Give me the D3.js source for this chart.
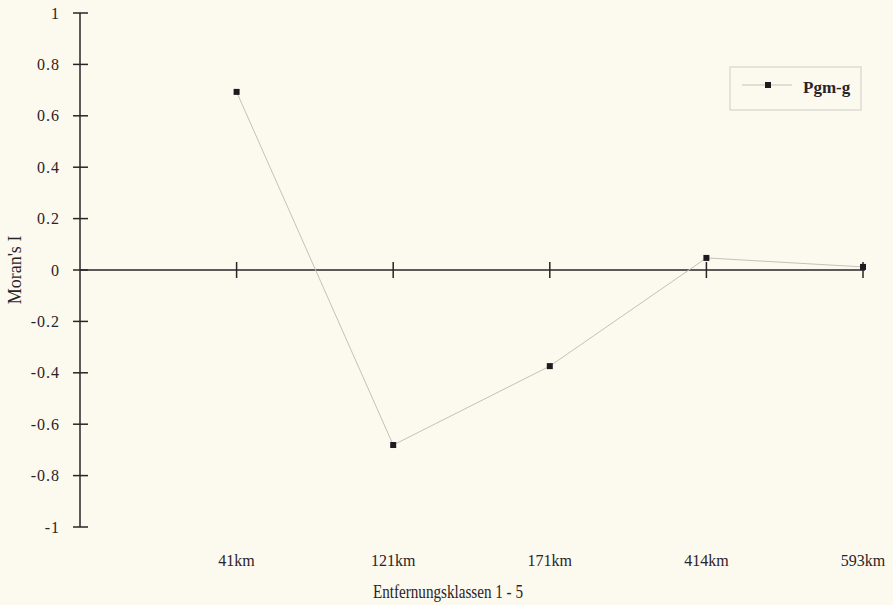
<!DOCTYPE html>
<html>
<head>
<meta charset="utf-8">
<script src="https://cdn.jsdelivr.net/npm/d3@7"></script>
<style>
  html, body { margin: 0; padding: 0; background: #fcf9ee; }
  svg { display: block; }
  text { font-family: "Liberation Serif", "Times New Roman", serif; fill: #2a2428; }
</style>
</head>
<body>
<svg id="chart" width="893" height="605"></svg>
<script>
// Distance classes and Moran's I correlogram values
const categories = ["41km", "121km", "171km", "414km", "593km"];
const moransI = [0.693, -0.681, -0.374, 0.047, 0.012];
const yTicks = [1, 0.8, 0.6, 0.4, 0.2, 0, -0.2, -0.4, -0.6, -0.8, -1];
const seriesName = "Pgm-g";

const svg = d3.select("#chart");

const axisX = 80;
const y = d3.scaleLinear().domain([-1, 1]).range([527, 13]);
// categories sit at positions 1..5, the y axis at position 0
const x = d3.scaleLinear().domain([0, 5]).range([axisX, 863]);
const xPos = (d, i) => x(i + 1);

const ink = "#2a2428";

// y axis line
svg.append("line")
  .attr("x1", axisX).attr("x2", axisX)
  .attr("y1", y(1)).attr("y2", y(-1))
  .attr("stroke", ink).attr("stroke-width", 1.5);

// y ticks (cross the axis) and labels
const yt = svg.append("g");
yt.selectAll("line").data(yTicks).join("line")
  .attr("x1", axisX - 7).attr("x2", axisX + 8)
  .attr("y1", d => y(d)).attr("y2", d => y(d))
  .attr("stroke", ink).attr("stroke-width", 1.5);
yt.selectAll("text").data(yTicks).join("text")
  .attr("x", 60).attr("y", d => y(d) + 5.5)
  .attr("text-anchor", "end")
  .attr("font-size", 16)
  .attr("letter-spacing", 1)
  .text(d => String(d));

// zero line used as the category axis
svg.append("line")
  .attr("x1", axisX).attr("x2", 865)
  .attr("y1", y(0)).attr("y2", y(0))
  .attr("stroke", ink).attr("stroke-width", 1.5);
svg.append("g").selectAll("line").data(categories).join("line")
  .attr("x1", xPos).attr("x2", xPos)
  .attr("y1", y(0) - 8).attr("y2", y(0) + 8)
  .attr("stroke", ink).attr("stroke-width", 1.5);

// category labels below the plot
svg.append("g").selectAll("text").data(categories).join("text")
  .attr("x", xPos).attr("y", 566)
  .attr("text-anchor", "middle")
  .attr("font-size", 16)
  .text(d => d);

// axis titles
svg.append("text")
  .attr("x", 448).attr("y", 598)
  .attr("text-anchor", "middle")
  .attr("font-size", 18)
  .attr("textLength", 150)
  .attr("lengthAdjust", "spacingAndGlyphs")
  .text("Entfernungsklassen 1 - 5");
svg.append("text")
  .attr("transform", `translate(21,270) rotate(-90)`)
  .attr("text-anchor", "middle")
  .attr("font-size", 18)
  .text("Moran's I");

// series line and markers
const line = d3.line().x((d, i) => xPos(d, i)).y(d => y(d));
svg.append("path")
  .datum(moransI)
  .attr("d", line)
  .attr("fill", "none")
  .attr("stroke", "#c4c2b9")
  .attr("stroke-width", 1);
svg.append("g").selectAll("rect").data(moransI).join("rect")
  .attr("x", (d, i) => xPos(d, i) - 3)
  .attr("y", d => y(d) - 3)
  .attr("width", 6).attr("height", 6)
  .attr("fill", "#1e1a20");

// legend
const lg = svg.append("g");
lg.append("rect")
  .attr("x", 730).attr("y", 67).attr("width", 131).attr("height", 43)
  .attr("fill", "none").attr("stroke", "#cfcdc4").attr("stroke-width", 1);
lg.append("line")
  .attr("x1", 742).attr("x2", 792).attr("y1", 85).attr("y2", 85)
  .attr("stroke", "#c4c2b9").attr("stroke-width", 1);
lg.append("rect")
  .attr("x", 765).attr("y", 82).attr("width", 6).attr("height", 6)
  .attr("fill", "#1e1a20");
lg.append("text")
  .attr("x", 803).attr("y", 93)
  .attr("font-size", 17).attr("font-weight", "bold")
  .text(seriesName);
</script>
</body>
</html>
